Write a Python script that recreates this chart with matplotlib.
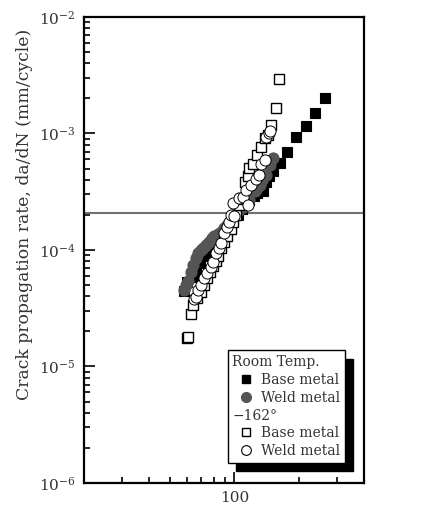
import matplotlib
matplotlib.use("Agg")
import matplotlib.pyplot as plt
from matplotlib.lines import Line2D
from matplotlib.ticker import FixedLocator, FixedFormatter, LogLocator, NullFormatter

plt.rcParams['font.family'] = ['DejaVu Serif']
plt.rcParams['mathtext.fontset'] = 'dejavuserif'

# stress intensity factor range (x) and da/dN (y)
base_rt_dk = [58.4, 60.3, 63.9, 66.5, 69.0, 72.4, 76.4, 80.0, 83.5, 87.0, 91.0, 94.8,
              99.0, 103.5, 108.0, 112.6, 117.5, 123.0, 128.0, 135.2, 140.6, 144.6,
              151.0, 162.0, 176.0, 194.0, 215.0, 238.0, 263.0]
base_rt_rate = [4.45e-5, 5.3e-5, 5.9e-5, 6.7e-5, 7.7e-5, 8.8e-5, 9.4e-5, 1.05e-4,
                1.18e-4, 1.35e-4, 1.5e-4, 1.65e-4, 1.85e-4, 2.0e-4, 2.25e-4, 2.5e-4,
                2.68e-4, 2.9e-4, 3.1e-4, 3.2e-4, 3.8e-4, 4.3e-4, 4.8e-4, 5.6e-4,
                7.0e-4, 9.4e-4, 1.16e-3, 1.51e-3, 2.0e-3]

weld_rt_dk = [58.4, 59.4, 60.7, 62.8, 63.9, 66.2, 68.0, 69.8, 71.5, 73.8, 76.4, 79.0,
              80.6, 83.5, 86.7, 89.8, 92.5, 94.8, 99.0, 102.0, 105.5, 109.3, 114.0,
              117.5, 124.0, 128.0, 130.9, 135.0, 140.6, 145.8, 151.0]
weld_rt_rate = [4.5e-5, 5.0e-5, 5.4e-5, 6.5e-5, 7.4e-5, 8.5e-5, 9.4e-5, 1.0e-4,
                1.05e-4, 1.1e-4, 1.18e-4, 1.27e-4, 1.32e-4, 1.37e-4, 1.44e-4, 1.55e-4,
                1.65e-4, 1.7e-4, 1.9e-4, 2.05e-4, 2.2e-4, 2.35e-4, 2.55e-4, 2.68e-4,
                3.2e-4, 3.4e-4, 3.6e-4, 4.0e-4, 4.4e-4, 5.4e-4, 6.1e-4]

base_lt_dk = [60.4, 61.0, 62.8, 64.3, 67.0, 70.0, 72.4, 74.8, 77.0, 79.8, 82.1, 84.0,
              87.0, 89.8, 92.7, 96.0, 99.0, 101.8, 105.5, 107.8, 111.4, 115.3, 117.5,
              121.8, 128.0, 133.3, 138.1, 143.2, 148.4, 155.5, 161.0]
base_lt_rate = [1.77e-5, 1.8e-5, 2.8e-5, 3.4e-5, 3.9e-5, 4.4e-5, 5.0e-5, 5.7e-5,
                6.5e-5, 7.3e-5, 8.1e-5, 8.9e-5, 1.03e-4, 1.17e-4, 1.32e-4, 1.5e-4,
                1.74e-4, 2.0e-4, 2.43e-4, 2.75e-4, 3.85e-4, 4.3e-4, 5.1e-4, 5.5e-4,
                6.5e-4, 7.7e-4, 9.1e-4, 9.7e-4, 1.18e-3, 1.64e-3, 2.92e-3]

weld_lt_dk = [65.0, 66.2, 67.4, 69.8, 72.4, 74.8, 77.8, 79.2, 82.1, 85.1, 86.7, 89.8,
              92.0, 94.0, 96.5, 98.2, 100.0, 105.5, 109.3, 113.4, 115.3, 119.7, 125.4,
              130.0, 133.3, 138.1, 140.6, 144.6, 145.8]
weld_lt_rate = [3.8e-5, 3.97e-5, 4.5e-5, 5.0e-5, 5.7e-5, 6.4e-5, 7.2e-5, 7.9e-5,
                9.4e-5, 1.03e-4, 1.14e-4, 1.4e-4, 1.58e-4, 1.75e-4, 2.0e-4, 2.52e-4,
                1.96e-4, 2.79e-4, 2.87e-4, 3.3e-4, 2.43e-4, 3.6e-4, 4.1e-4, 4.4e-4,
                5.5e-4, 5.9e-4, 9.4e-4, 1.0e-3, 1.04e-3]

threshold_rate = 2.08e-4
legend_labels = ["Room Temp.", "Base metal", "Weld metal", "\u2212162\u00b0",
                 "Base metal", "Weld metal"]

txt = '#333333'
fig = plt.figure(figsize=(4.3, 5.13), dpi=100)
ax = fig.add_axes([0.1953, 0.0585, 0.6512, 0.9084])

ax.plot(base_rt_dk, base_rt_rate, 's', ms=7.5, mfc='black', mec='black', mew=0.8, zorder=3)
ax.plot(weld_rt_dk, weld_rt_rate, 'o', ms=8, mfc='#555555', mec='#555555', mew=0.8, zorder=4)
ax.plot(base_lt_dk, base_lt_rate, 's', ms=7.5, mfc='white', mec='black', mew=1.0, zorder=5)
ax.plot(weld_lt_dk, weld_lt_rate, 'o', ms=8, mfc='white', mec='black', mew=0.7, zorder=6)
ax.axhline(threshold_rate, color='#707070', lw=1.5, zorder=2)

ax.set_xscale('log')
ax.set_yscale('log')
ax.set_xlim(20, 400)
ax.set_ylim(1e-6, 1e-2)

ax.xaxis.set_major_locator(FixedLocator([100]))
ax.xaxis.set_major_formatter(FixedFormatter(["100"]))
ax.xaxis.set_minor_locator(LogLocator(base=10, subs=range(2, 10)))
ax.xaxis.set_minor_formatter(NullFormatter())
ax.yaxis.set_minor_locator(LogLocator(base=10, subs=range(2, 10), numticks=20))
ax.yaxis.set_minor_formatter(NullFormatter())

ax.tick_params(which='both', direction='in', top=False, right=False,
               colors='black', labelcolor=txt, labelsize=11, width=1.2)
ax.tick_params(which='major', length=8, pad=6)
ax.tick_params(which='minor', length=4.5)
for s in ax.spines.values():
    s.set_linewidth(1.6)

ax.set_ylabel("Crack propagation rate, da/dN (mm/cycle)", fontsize=12.4, color=txt)
ax.yaxis.set_label_coords(-0.182, 0.577)

handles = [
    Line2D([], [], linestyle='none'),
    Line2D([], [], marker='s', ls='none', ms=6, mfc='black', mec='black'),
    Line2D([], [], marker='o', ls='none', ms=7, mfc='#555555', mec='#555555'),
    Line2D([], [], linestyle='none'),
    Line2D([], [], marker='s', ls='none', ms=6, mfc='white', mec='black', mew=1.0),
    Line2D([], [], marker='o', ls='none', ms=7, mfc='white', mec='black', mew=0.8),
]
leg = ax.legend(handles, legend_labels, loc='lower right', bbox_to_anchor=(0.932, 0.043),
                borderaxespad=0, fontsize=10, frameon=True, fancybox=False,
                edgecolor='black', framealpha=1, borderpad=0.35, labelspacing=0.27,
                handlelength=2.0, handletextpad=0.05,
                shadow={'ox': 6, 'oy': -6, 'shade': 1.0, 'alpha': 1})
leg.get_frame().set_linewidth(1.0)
for t in leg.get_texts():
    t.set_color(txt)
# header rows carry no marker: drop their handle so the text starts at the frame
items = leg._legend_handle_box.get_children()[0].get_children()
for i in (0, 3):
    items[i].get_children().pop(0)

fig.savefig("out.png", dpi=100)
